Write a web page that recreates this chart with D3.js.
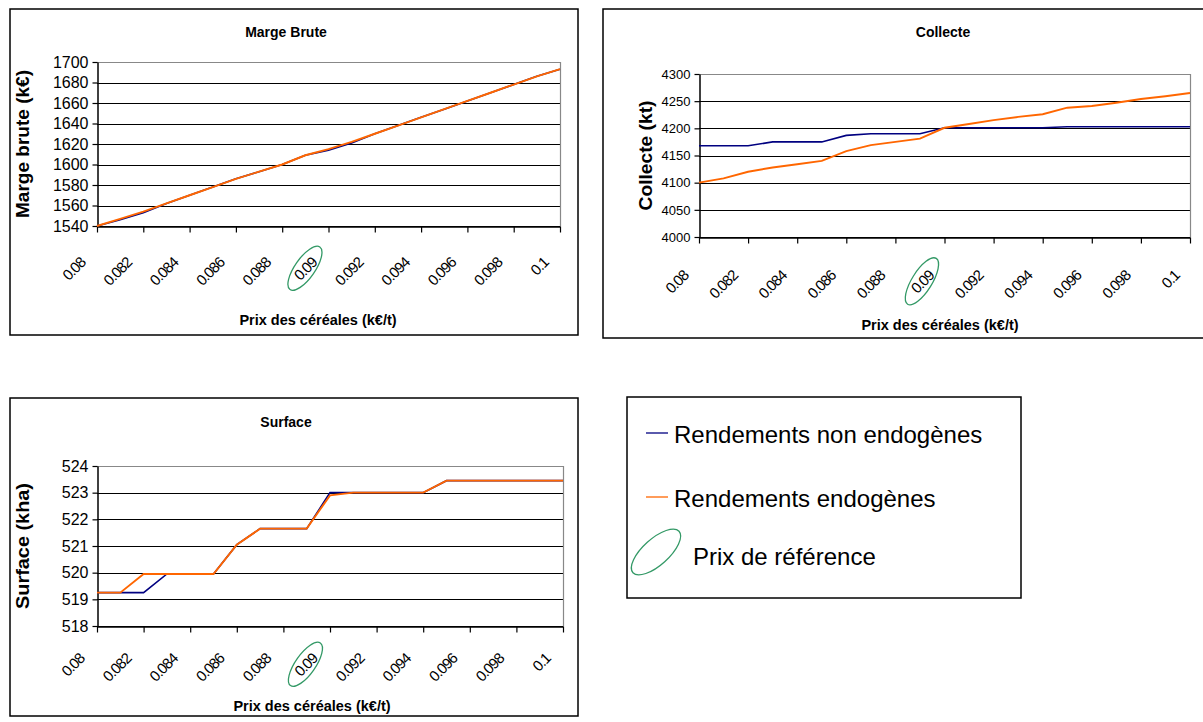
<!DOCTYPE html>
<html><head><meta charset="utf-8">
<script src="https://cdn.jsdelivr.net/npm/d3@7"></script>
<style>
body{margin:0;background:#fff;}
text{font-family:"Liberation Sans",Arial,sans-serif;fill:#000;}
</style>
</head><body>
<svg id="c" width="1203" height="722"></svg>
<script>
// ---------- data ----------
const prices = [0.080,0.081,0.082,0.083,0.084,0.085,0.086,0.087,0.088,0.089,0.090,
                0.091,0.092,0.093,0.094,0.095,0.096,0.097,0.098,0.099,0.100];
const xTickValues = [0.08,0.082,0.084,0.086,0.088,0.09,0.092,0.094,0.096,0.098,0.1];
const xTickLabels = ["0.08","0.082","0.084","0.086","0.088","0.09","0.092","0.094","0.096","0.098","0.1"];
const refPrice = 0.09;

const margeNonEndo = [1540,1546,1553,1562,1570,1578,1586,1593,1600,1609,1614,1621,1630,1638,1646,1654,1662,1670,1678,1686,1693];
const margeEndo    = [1540,1547,1554,1562,1570,1578,1586,1593,1600,1609,1615,1622,1630,1638,1646,1654,1662,1670,1678,1686,1693];
const margeTicks   = [1540,1560,1580,1600,1620,1640,1660,1680,1700];

const collecteNonEndo = [4168,4168,4168,4175,4175,4175,4187,4190,4190,4190,4201,4201,4201,4201,4201,4203,4203,4203,4203,4203,4203];
const collecteEndo    = [4100,4108,4120,4128,4134,4140,4158,4169,4175,4181,4201,4208,4215,4221,4226,4238,4241,4247,4254,4259,4265];
const collecteTicks   = [4000,4050,4100,4150,4200,4250,4300];

const surfaceNonEndo = [519.25,519.25,519.25,519.95,519.95,519.95,521.05,521.65,521.65,521.65,523,523,523,523,523,523.45,523.45,523.45,523.45,523.45,523.45];
const surfaceEndo    = [519.25,519.25,519.95,519.95,519.95,519.95,521.05,521.65,521.65,521.65,522.9,523,523,523,523,523.45,523.45,523.45,523.45,523.45,523.45];
const surfaceTicks   = [518,519,520,521,522,523,524];

const seriesNames = ["Rendements non endogènes","Rendements endogènes"];
const refLabel = "Prix de référence";
const colors = {nonEndo:"#000080", endo:"#FF6600", ref:"#339966"};
const xTitle = "Prix des céréales (k€/t)";

// ---------- drawing ----------
const svg = d3.select("#c");
const FONT = '"Liberation Sans",Arial,sans-serif';

function panel(cfg){
  const g = svg.append("g");
  g.append("rect").attr("x",cfg.box[0]).attr("y",cfg.box[1])
    .attr("width",cfg.box[2]).attr("height",cfg.box[3])
    .attr("fill","#fff").attr("stroke","#000").attr("stroke-width",1.5);

  const x = d3.scaleLinear().domain([0.08,0.1]).range([cfg.plot[0],cfg.plot[1]]);
  const y = d3.scaleLinear().domain(cfg.yDomain).range([cfg.plot[3],cfg.plot[2]]);

  // gridlines
  g.append("g").selectAll("line").data(cfg.yTicks).join("line")
    .attr("x1",cfg.plot[0]).attr("x2",cfg.plot[1])
    .attr("y1",d=>Math.round(y(d))+0.5).attr("y2",d=>Math.round(y(d))+0.5)
    .attr("stroke",(d,i)=> i===cfg.yTicks.length-1 ? "#888" : "#000").attr("stroke-width",1.2);
  g.append("line").attr("x1",Math.round(cfg.plot[1])+0.5).attr("x2",Math.round(cfg.plot[1])+0.5)
    .attr("y1",y(cfg.yDomain[1])).attr("y2",y(cfg.yDomain[0]))
    .attr("stroke","#888").attr("stroke-width",1.2);

  // y axis
  const ya = d3.axisLeft(y).tickValues(cfg.yTicks).tickSize(5).tickSizeOuter(0).tickPadding(4)
    .tickFormat(d3.format("d"));
  const yg = g.append("g").attr("transform",`translate(${Math.round(cfg.plot[0])+0.5},0)`).call(ya);
  yg.select(".domain").attr("stroke","#000").attr("stroke-width",1.5);
  yg.selectAll(".tick line").attr("stroke","#000").attr("stroke-width",1.2);
  yg.selectAll(".tick text").attr("font-size",cfg.yFont).attr("font-family",FONT);

  // x axis
  const xa = d3.axisBottom(x).tickValues(xTickValues).tickSize(6).tickSizeOuter(0).tickFormat((d,i)=>xTickLabels[i]);
  const xg = g.append("g").attr("transform",`translate(0,${Math.round(cfg.plot[3])+0.5})`).call(xa);
  xg.select(".domain").attr("stroke","#000").attr("stroke-width",1.5);
  xg.selectAll(".tick line").attr("stroke","#000").attr("stroke-width",1.2);
  xg.selectAll(".tick text").attr("font-size",cfg.xFont).attr("font-family",FONT)
    .attr("text-anchor","end").attr("dy",0).attr("y",0)
    .attr("transform",`translate(${cfg.labDx},${cfg.labDy}) rotate(-45)`)
    .style("letter-spacing","-1px");

  // reference ellipse centred on the 0.09 label
  const refText = xg.selectAll(".tick").filter(d=>Math.abs(d-refPrice)<1e-9).select("text").node();
  const bb = refText.getBBox();
  const lx = bb.x + bb.width/2, ly = bb.y + bb.height/2;
  const c45 = Math.SQRT1_2;
  const ex = x(refPrice) + cfg.labDx + c45*(lx + ly);
  const ey = Math.round(cfg.plot[3]) + 0.5 + cfg.labDy + c45*(-lx + ly);
  g.append("ellipse").attr("cx",ex).attr("cy",ey).attr("rx",cfg.ell[0]).attr("ry",cfg.ell[1])
    .attr("transform",`rotate(${cfg.ell[2]},${ex},${ey})`)
    .attr("fill","none").attr("stroke",colors.ref).attr("stroke-width",1.3);

  // lines
  const line = d3.line().x((d,i)=>x(prices[i])).y(d=>y(d));
  g.append("path").datum(cfg.nonEndo).attr("d",line).attr("fill","none")
    .attr("stroke",colors.nonEndo).attr("stroke-width",1.6);
  g.append("path").datum(cfg.endo).attr("d",line).attr("fill","none")
    .attr("stroke",colors.endo).attr("stroke-width",1.9);

  // titles
  g.append("text").attr("x",cfg.titleX).attr("y",cfg.titleY).attr("text-anchor","middle")
    .attr("font-size",14).attr("font-weight","bold").text(cfg.title);
  g.append("text").attr("transform",`translate(${cfg.yTitleX},${(cfg.plot[2]+cfg.plot[3])/2}) rotate(-90)`)
    .attr("text-anchor","middle").attr("font-size",18).attr("font-weight","bold")
    .attr("textLength",cfg.yTitleLen).attr("lengthAdjust","spacingAndGlyphs").text(cfg.yTitle);
  g.append("text").attr("x",cfg.xTitleX).attr("y",cfg.xTitleY).attr("text-anchor","middle")
    .attr("font-size",14.5).attr("font-weight","bold").text(xTitle);
}

panel({box:[10,9,568,326], plot:[97,560,62,226], yDomain:[1540,1700], yTicks:margeTicks,
  nonEndo:margeNonEndo, endo:margeEndo, yFont:16, xFont:15, labDx:-11, labDy:37, ell:[26,10,-55],
  title:"Marge Brute", titleX:286, titleY:37, yTitle:"Marge brute (k€)", yTitleX:29, yTitleLen:148,
  xTitleX:318, xTitleY:325});

panel({box:[603,9,620,329], plot:[699,1190,74,237], yDomain:[4000,4300], yTicks:collecteTicks,
  nonEndo:collecteNonEndo, endo:collecteEndo, yFont:13, xFont:15, labDx:-10, labDy:39, ell:[27,10,-58],
  title:"Collecte", titleX:943, titleY:37, yTitle:"Collecte (kt)", yTitleX:652, yTitleLen:110,
  xTitleX:940, xTitleY:330});

panel({box:[10,398,568,318], plot:[97,563,466,626], yDomain:[518,524], yTicks:surfaceTicks,
  nonEndo:surfaceNonEndo, endo:surfaceEndo, yFont:16, xFont:15, labDx:-12, labDy:33, ell:[26,10,-55],
  title:"Surface", titleX:286, titleY:427, yTitle:"Surface (kha)", yTitleX:29, yTitleLen:126,
  xTitleX:312, xTitleY:711});

// legend
const lg = svg.append("g");
lg.append("rect").attr("x",627).attr("y",397).attr("width",394).attr("height",201)
  .attr("fill","#fff").attr("stroke","#000").attr("stroke-width",1.5);
const legendItems = [
  {name:seriesNames[0], color:colors.nonEndo, y:433},
  {name:seriesNames[1], color:colors.endo, y:497}
];
legendItems.forEach(it=>{
  lg.append("line").attr("x1",646).attr("x2",668).attr("y1",it.y).attr("y2",it.y)
    .attr("stroke",it.color).attr("stroke-width",1.3);
  lg.append("text").attr("x",674).attr("y",it.y+10).attr("font-size",24).text(it.name);
});
lg.append("ellipse").attr("cx",656).attr("cy",552).attr("rx",31).attr("ry",13)
  .attr("transform","rotate(-42,656,552)").attr("fill","none")
  .attr("stroke",colors.ref).attr("stroke-width",1.3);
lg.append("text").attr("x",693).attr("y",565).attr("font-size",24).text(refLabel);
</script>
</body></html>
